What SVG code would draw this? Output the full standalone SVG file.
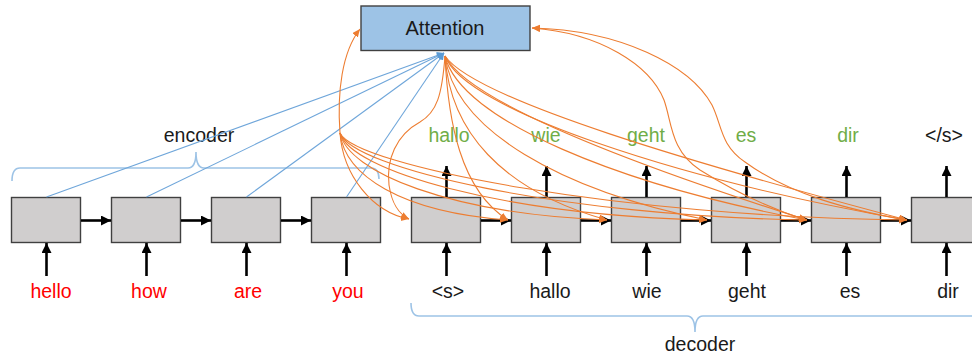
<svg xmlns="http://www.w3.org/2000/svg" width="972" height="358" viewBox="0 0 972 358">
<style>
.box{fill:#D0CECE;stroke:#404040;stroke-width:1.4}
.att{fill:#9DC3E6;stroke:#404040;stroke-width:1.4}
.blk{stroke:#000;stroke-width:2.6;fill:none;marker-end:url(#ab)}
.blue{stroke:#6FA6DA;stroke-width:1.1;fill:none;marker-end:url(#abl)}
.or{stroke:#ED7D31;stroke-width:1.1;fill:none;marker-end:url(#ao)}
.brace{stroke:#9DC3E6;stroke-width:1.6;fill:none}
text{font-family:"Liberation Sans",Arial,sans-serif;font-size:19.5px;text-anchor:middle}
.red{fill:#FF0000}
.grn{fill:#70AD47}
.dk{fill:#1A1A1A}
</style>
<defs>
<marker id="ab" markerUnits="userSpaceOnUse" markerWidth="11" markerHeight="11" refX="10" refY="5" orient="auto"><path d="M0,0 L10,5 L0,10 z" fill="#000"/></marker>
<marker id="ao" markerUnits="userSpaceOnUse" markerWidth="9" markerHeight="8" refX="8" refY="3.5" orient="auto"><path d="M0,0 L8,3.5 L0,7 z" fill="#ED7D31"/></marker>
<marker id="abl" markerUnits="userSpaceOnUse" markerWidth="9" markerHeight="8" refX="7" refY="3.5" orient="auto"><path d="M0,0 L7,3.5 L0,7 z" fill="#5B9BD5"/></marker>
</defs>

<g id="braces">
<path class="brace" d="M12,181 Q12,168 20,168 H188 Q196,168 196,152 Q196,168 204,168 H371 Q379,168 379,179"/>
<text class="dk" x="199" y="142">encoder</text>
<path class="brace" d="M411,303 Q411,316 419,316 H687 Q695,316 695,332 Q695,316 703,316 H980"/>
<text class="dk" x="700" y="351">decoder</text>
</g>

<g id="attention">
<rect class="att" x="361" y="6" width="169" height="44.5"/>
<text class="dk" x="445" y="35" style="font-size:20px">Attention</text>
</g>

<g id="enc1"><rect class="box" x="11.5" y="197.5" width="69" height="45"/><text class="red" x="51" y="298">hello</text></g>
<g id="enc2"><rect class="box" x="111.5" y="197.5" width="69" height="45"/><text class="red" x="149" y="298">how</text></g>
<g id="enc3"><rect class="box" x="211.5" y="197.5" width="69" height="45"/><text class="red" x="248" y="298">are</text></g>
<g id="enc4"><rect class="box" x="311.5" y="197.5" width="69" height="45"/><text class="red" x="348" y="298">you</text></g>
<g id="dec1"><rect class="box" x="411.5" y="197.5" width="69" height="45"/><text class="dk" x="448" y="298">&lt;s&gt;</text><text class="grn" x="449" y="142">hallo</text></g>
<g id="dec2"><rect class="box" x="511.5" y="197.5" width="69" height="45"/><text class="dk" x="550" y="298">hallo</text><text class="grn" x="546" y="142">wie</text></g>
<g id="dec3"><rect class="box" x="611.5" y="197.5" width="69" height="45"/><text class="dk" x="647" y="298">wie</text><text class="grn" x="646" y="142">geht</text></g>
<g id="dec4"><rect class="box" x="711.5" y="197.5" width="69" height="45"/><text class="dk" x="747" y="298">geht</text><text class="grn" x="746" y="142">es</text></g>
<g id="dec5"><rect class="box" x="811.5" y="197.5" width="69" height="45"/><text class="dk" x="850" y="298">es</text><text class="grn" x="848" y="142">dir</text></g>
<g id="dec6"><rect class="box" x="911.5" y="197.5" width="69" height="45"/><text class="dk" x="948" y="298">dir</text><text class="dk" x="944" y="142">&lt;/s&gt;</text></g>

<g id="connectors">
<line class="blue" x1="46.5" y1="197" x2="444" y2="53"/>
<line class="blue" x1="146.5" y1="197" x2="444" y2="53"/>
<line class="blue" x1="246.5" y1="197" x2="444" y2="53"/>
<line class="blue" x1="346.5" y1="197" x2="444" y2="53"/>
<line class="blk" x1="81" y1="220.5" x2="111" y2="220.5"/>
<line class="blk" x1="181" y1="220.5" x2="211" y2="220.5"/>
<line class="blk" x1="281" y1="220.5" x2="311" y2="220.5"/>
<line class="blk" x1="481" y1="220.5" x2="511" y2="220.5"/>
<line class="blk" x1="581" y1="220.5" x2="611" y2="220.5"/>
<line class="blk" x1="681" y1="220.5" x2="711" y2="220.5"/>
<line class="blk" x1="781" y1="220.5" x2="811" y2="220.5"/>
<line class="blk" x1="881" y1="220.5" x2="911" y2="220.5"/>
<line class="blk" x1="46.5" y1="276" x2="46.5" y2="243"/>
<line class="blk" x1="146.5" y1="276" x2="146.5" y2="243"/>
<line class="blk" x1="246.5" y1="276" x2="246.5" y2="243"/>
<line class="blk" x1="346.5" y1="276" x2="346.5" y2="243"/>
<line class="blk" x1="446.5" y1="276" x2="446.5" y2="243"/>
<line class="blk" x1="546.5" y1="276" x2="546.5" y2="243"/>
<line class="blk" x1="646.5" y1="276" x2="646.5" y2="243"/>
<line class="blk" x1="746.5" y1="276" x2="746.5" y2="243"/>
<line class="blk" x1="846.5" y1="276" x2="846.5" y2="243"/>
<line class="blk" x1="946.5" y1="276" x2="946.5" y2="243"/>
<line class="blk" x1="446.5" y1="197" x2="446.5" y2="166"/>
<line class="blk" x1="546.5" y1="197" x2="546.5" y2="166"/>
<line class="blk" x1="646.5" y1="197" x2="646.5" y2="166"/>
<line class="blk" x1="746.5" y1="197" x2="746.5" y2="166"/>
<line class="blk" x1="846.5" y1="197" x2="846.5" y2="166"/>
<line class="blk" x1="946.5" y1="197" x2="946.5" y2="166"/>
<path class="or" d="M445,56 C442,95 437,112 420,122 C396,135 386,160 389,185 C392,205 399,214 409,219"/>
<path class="or" d="M445,56 C448,120 460,190 508,220"/>
<path class="or" d="M445,56 C450,130 500,190 607,220"/>
<path class="or" d="M445,56 C455,130 560,190 707,220"/>
<path class="or" d="M445,56 C460,120 620,185 807,220"/>
<path class="or" d="M445,56 C465,110 680,180 907,220"/>
<path class="or" d="M445,56 C470,105 650,170 807,220"/>
<path class="or" d="M445,56 C475,100 700,165 907,220"/>
<path class="or" d="M340,133 C337,92 342,52 360,29"/>
<path class="or" d="M340,133 C343,175 372,212 409,219"/>
<path class="or" d="M340,133 C345,175 400,212 508,220"/>
<path class="or" d="M340,133 C348,172 450,214 607,220"/>
<path class="or" d="M340,133 C350,170 500,215 707,220"/>
<path class="or" d="M340,133 C352,168 560,216 807,220"/>
<path class="or" d="M340,133 C355,166 620,217 907,220"/>
<path class="or" d="M806,220 C775,210 740,195 700,170 C670,150 672,122 664,100 C650,65 600,33 532,28"/>
<path class="or" d="M906,220 C850,210 790,195 745,162 C720,145 722,125 712,105 C690,65 620,30 532,28"/>
</g>
</svg>
